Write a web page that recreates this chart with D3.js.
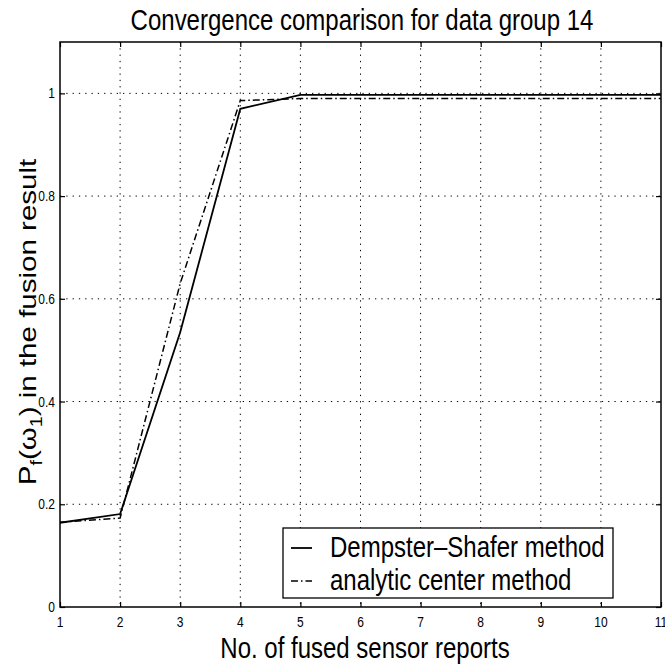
<!DOCTYPE html>
<html>
<head>
<meta charset="utf-8">
<script src="https://cdn.jsdelivr.net/npm/d3@7"></script>
<style>
  html, body { margin: 0; padding: 0; background: #fff; }
  svg text { font-family: "Liberation Sans", Arial, Helvetica, sans-serif; fill: #000; }
</style>
</head>
<body>
<svg id="chart" width="665" height="666"></svg>
<script>
// ---- data ----
const reports = [1, 2, 3, 4, 5, 6, 7, 8, 9, 10, 11];
const dempsterShafer = [0.164, 0.181, 0.535, 0.970, 0.997, 0.997, 0.997, 0.997, 0.997, 0.997, 0.997];
const analyticCenter = [0.165, 0.173, 0.630, 0.986, 0.990, 0.990, 0.990, 0.990, 0.990, 0.990, 0.990];
const xTicks = [1, 2, 3, 4, 5, 6, 7, 8, 9, 10, 11];
const yTicks = [0, 0.2, 0.4, 0.6, 0.8, 1];
const seriesNames = ["Dempster\u2013Shafer method", "analytic center method"];
const titleText = "Convergence comparison for data group 14";
const xLabelText = "No. of fused sensor reports";

// ---- layout ----
const SY = 1.23; // vertical stretch of the scanned figure
const L = 60, R = 661, T = 42, B = 607;
const svg = d3.select("#chart");
svg.append("rect").attr("width", 665).attr("height", 666).attr("fill", "#fff");

const x = d3.scaleLinear().domain([1, 11]).range([L, R]);
const y = d3.scaleLinear().domain([0, 1.1]).range([B, T]);

function stext(parent, px, py, str, anchor, size) {
  return parent.append("text")
    .attr("transform", `translate(${px},${py}) scale(1,${SY})`)
    .attr("text-anchor", anchor)
    .style("font-size", size + "px")
    .text(str);
}

// grid
const grid = svg.append("g").attr("stroke", "#000").attr("stroke-width", 1)
  .attr("stroke-dasharray", "1.3,5");
grid.selectAll("line.gx").data(xTicks.filter(d => d > 1 && d < 11)).join("line")
  .attr("x1", d => x(d)).attr("x2", d => x(d)).attr("y1", T).attr("y2", B);
grid.selectAll("line.gy").data(yTicks.filter(d => d > 0)).join("line")
  .attr("x1", L).attr("x2", R).attr("y1", d => y(d)).attr("y2", d => y(d));

// axes (inward ticks on all four sides)
const tick = 5;
const axB = svg.append("g").attr("transform", `translate(0,${B})`)
  .call(d3.axisBottom(x).tickValues(xTicks).tickSizeInner(-tick).tickSizeOuter(0).tickFormat(""));
const axT = svg.append("g").attr("transform", `translate(0,${T})`)
  .call(d3.axisTop(x).tickValues(xTicks).tickSizeInner(-tick).tickSizeOuter(0).tickFormat(""));
const axL = svg.append("g").attr("transform", `translate(${L},0)`)
  .call(d3.axisLeft(y).tickValues(yTicks).tickSizeInner(-tick).tickSizeOuter(0).tickFormat(""));
const axR = svg.append("g").attr("transform", `translate(${R},0)`)
  .call(d3.axisRight(y).tickValues(yTicks).tickSizeInner(-tick).tickSizeOuter(0).tickFormat(""));
[axB, axT, axL, axR].forEach(a => {
  a.select(".domain").remove();
  a.selectAll("line").attr("stroke", "#000").attr("stroke-width", 1.2);
});
svg.append("rect").attr("x", L).attr("y", T).attr("width", R - L).attr("height", B - T)
  .attr("fill", "none").attr("stroke", "#000").attr("stroke-width", 1.5);

// tick labels
const tl = svg.append("g");
xTicks.forEach(d => stext(tl, x(d), B + 20, String(d), "middle", 12));
yTicks.forEach(d => stext(tl, L - 5, y(d) + 5, String(d), "end", 12));

// lines
const line = d3.line().x((d, i) => x(reports[i])).y(d => y(d));
svg.append("path").datum(analyticCenter).attr("d", line)
  .attr("fill", "none").attr("stroke", "#000").attr("stroke-width", 1.5)
  .attr("stroke-dasharray", "7,3,1.5,3");
svg.append("path").datum(dempsterShafer).attr("d", line)
  .attr("fill", "none").attr("stroke", "#000").attr("stroke-width", 1.8);

// title and x label
stext(svg, 362, 30, titleText, "middle", 24);
stext(svg, 365, 658, xLabelText, "middle", 24);

// y label
const yl = svg.append("text")
  .attr("transform", `translate(36,322) rotate(-90) scale(${SY},1)`)
  .attr("text-anchor", "middle")
  .style("font-size", "24px");
yl.append("tspan").text("P");
yl.append("tspan").attr("dy", 6).style("font-size", "16px").text("f");
yl.append("tspan").attr("dy", -6).text("(\u03c9");
yl.append("tspan").attr("dy", 6).style("font-size", "16px").text("1");
yl.append("tspan").attr("dy", -6).text(") in the fusion result");

// legend
const lg = svg.append("g");
lg.append("rect").attr("x", 283).attr("y", 528).attr("width", 330).attr("height", 70)
  .attr("fill", "#fff").attr("stroke", "#000").attr("stroke-width", 1.3);
const rows = [548, 581];
const dashes = [null, "7,3,1.5,3"];
seriesNames.forEach((name, i) => {
  lg.append("line").attr("x1", 291).attr("x2", 312).attr("y1", rows[i]).attr("y2", rows[i])
    .attr("stroke", "#000").attr("stroke-width", i === 0 ? 1.8 : 1.5)
    .attr("stroke-dasharray", dashes[i]);
  stext(lg, 330, rows[i] + 8.5, name, "start", 24);
});
</script>
</body>
</html>
